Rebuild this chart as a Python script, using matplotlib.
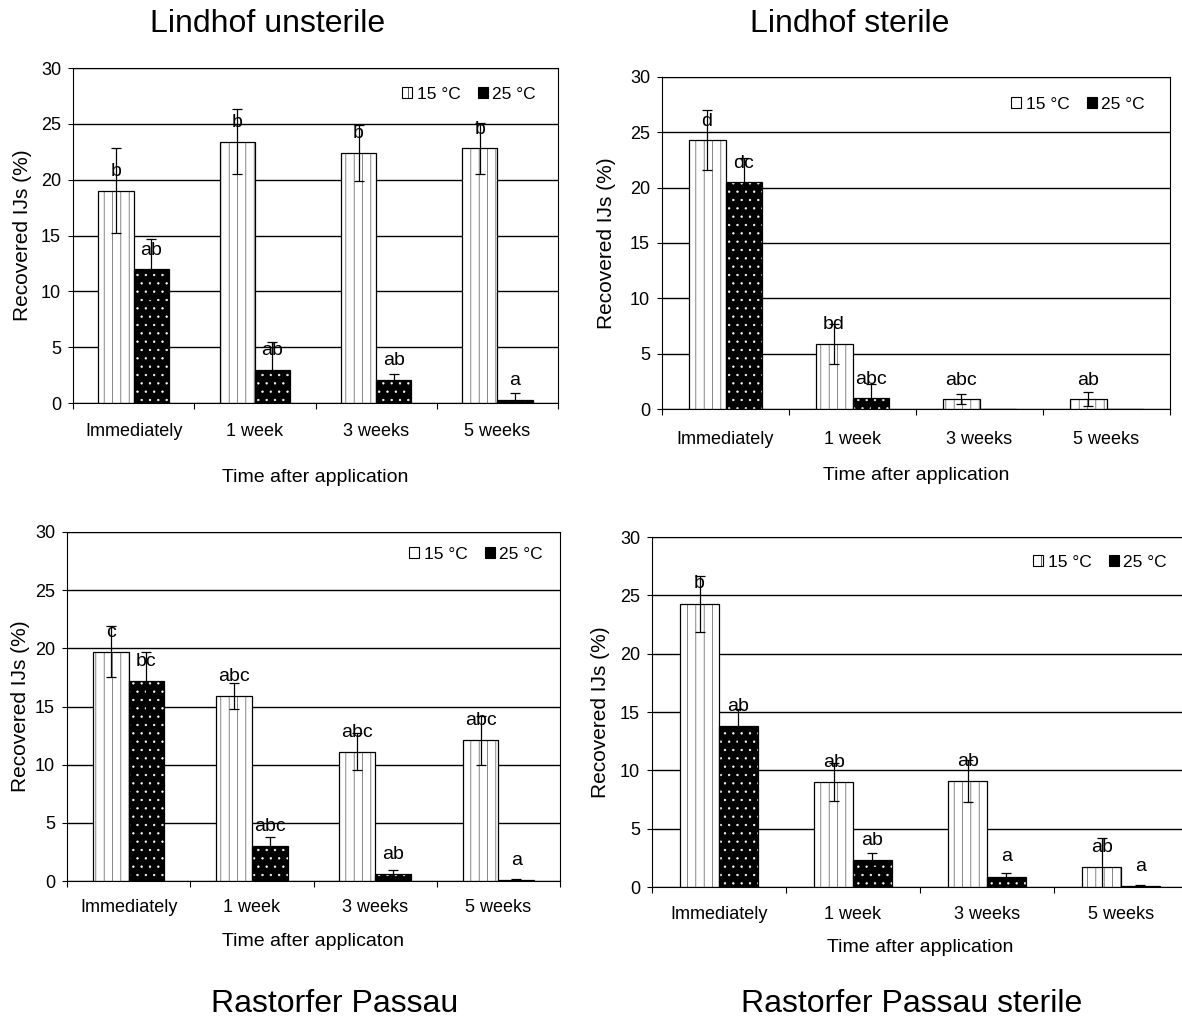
import numpy as np
import matplotlib.pyplot as plt
from matplotlib.patches import Patch

plt.rcParams['font.family'] = ['Liberation Sans', 'DejaVu Sans']
plt.rcParams['hatch.linewidth'] = 0.45

times = ['Immediately', '1 week', '3 weeks', '5 weeks']
temps = ['15 °C', '25 °C']

# Lindhof unsterile
lu_15 = [19.0, 23.4, 22.4, 22.8]
lu_15_err = [3.8, 2.9, 2.5, 2.3]
lu_25 = [12.0, 3.0, 2.1, 0.3]
lu_25_err = [2.7, 2.5, 0.5, 0.6]
lu_15_lab = ['b', 'b', 'b', 'b']
lu_25_lab = ['ab', 'ab', 'ab', 'a']

# Lindhof sterile
ls_15 = [24.3, 5.9, 0.9, 0.9]
ls_15_err = [2.7, 1.8, 0.45, 0.6]
ls_25 = [20.5, 1.0, 0.0, 0.0]
ls_25_err = [2.2, 1.3, np.nan, np.nan]
ls_15_lab = ['d', 'bd', 'abc', 'ab']
ls_25_lab = ['dc', 'abc', '', '']

# Rastorfer Passau
rp_15 = [19.7, 15.9, 11.1, 12.1]
rp_15_err = [2.2, 1.1, 1.6, 2.1]
rp_25 = [17.2, 3.0, 0.6, 0.1]
rp_25_err = [2.5, 0.8, 0.35, 0.1]
rp_15_lab = ['c', 'abc', 'abc', 'abc']
rp_25_lab = ['bc', 'abc', 'ab', 'a']

# Rastorfer Passau sterile
rps_15 = [24.3, 9.0, 9.1, 1.7]
rps_15_err = [2.4, 1.6, 1.8, 2.5]
rps_25 = [13.8, 2.3, 0.9, 0.1]
rps_25_err = [1.5, 0.6, 0.3, 0.1]
rps_15_lab = ['b', 'ab', 'ab', 'ab']
rps_25_lab = ['ab', 'ab', 'a', 'a']

W, H = 1182, 1021
fig = plt.figure(figsize=(W / 100, H / 100), dpi=100)


def draw_panel(box, v15, e15, v25, e25, lab15, lab25, xlab, tick_off, xlab_off, ylab_off, leg_dx, leg_dy):
    l, t, r, b = box
    wpx, hpx = r - l, b - t
    ax = fig.add_axes([l / W, 1 - b / H, wpx / W, hpx / H])
    x = np.arange(len(times))
    w = 0.29

    # 15 C: white with grey vertical lines
    ax.bar(x - w / 2, v15, w, color='white', edgecolor='#444444', hatch='||', linewidth=0, zorder=2)
    ax.bar(x - w / 2, v15, w, fill=False, edgecolor='black', linewidth=0.9, zorder=3)
    # 25 C: black with white dots
    ax.bar(x + w / 2, v25, w, color='black', edgecolor='white', hatch='..', linewidth=0, zorder=2)
    ax.bar(x + w / 2, v25, w, fill=False, edgecolor='black', linewidth=0.9, zorder=3)

    ax.errorbar(x - w / 2, v15, yerr=e15, fmt='none', ecolor='black', elinewidth=0.9,
                capsize=3.5, capthick=0.9, zorder=4)
    ax.errorbar(x + w / 2, v25, yerr=e25, fmt='none', ecolor='black', elinewidth=0.9,
                capsize=3.5, capthick=0.9, zorder=4)

    for i in range(len(times)):
        ax.text(x[i] - w / 2, v15[i] + 1.7, lab15[i], ha='center', va='center', fontsize=14, zorder=5)
        if lab25[i]:
            ax.text(x[i] + w / 2, v25[i] + 1.7, lab25[i], ha='center', va='center', fontsize=14, zorder=5)

    ax.set_xlim(-0.5, len(times) - 0.5)
    ax.set_ylim(0, 30)
    ax.set_yticks(np.arange(0, 31, 5))
    ax.yaxis.grid(True, color='black', linewidth=1)
    ax.set_axisbelow(True)

    ax.set_xticks(np.arange(-0.5, len(times), 1.0))
    ax.set_xticks(x, minor=True)
    ax.set_xticklabels([])
    ax.set_xticklabels(times, minor=True)
    ax.tick_params(axis='x', which='major', direction='out', length=4.3, width=0.8)
    ax.tick_params(axis='x', which='minor', length=0, labelsize=13, pad=(tick_off - 9) * 0.72)
    ax.tick_params(axis='y', direction='out', length=3.6, width=0.8, labelsize=13, pad=5)
    for s in ax.spines.values():
        s.set_linewidth(0.8)
        s.set_color('black')

    ax.text(0.5, -xlab_off / hpx, xlab, transform=ax.transAxes, ha='center', va='center', fontsize=14)
    ax.text(-ylab_off / wpx, 0.5, 'Recovered IJs (%)', transform=ax.transAxes, rotation=90,
            ha='center', va='center', fontsize=15)

    handles = [Patch(facecolor='white', edgecolor='black', hatch='|', linewidth=0.8),
               Patch(facecolor='black', edgecolor='black', linewidth=0.8)]
    ax.legend(handles, temps, loc='upper right', ncol=2, frameon=False, fontsize=12.5,
              bbox_to_anchor=(1 - leg_dx / wpx, 1 - leg_dy / hpx), borderpad=0, borderaxespad=0,
              handlelength=0.6, handleheight=0.6, handletextpad=0.25, columnspacing=1.0)
    return ax


draw_panel((73, 68, 558, 403), lu_15, lu_15_err, lu_25, lu_25_err, lu_15_lab, lu_25_lab,
           'Time after application', 29, 74, 50, 22, 19)
draw_panel((662, 77, 1170, 409), ls_15, ls_15_err, ls_25, ls_25_err, ls_15_lab, ls_25_lab,
           'Time after application', 31, 66, 55, 25, 20)
draw_panel((67, 532, 560, 881), rp_15, rp_15_err, rp_25, rp_25_err, rp_15_lab, rp_25_lab,
           'Time after applicaton', 27, 60, 46, 17, 15)
draw_panel((652, 537, 1188, 887), rps_15, rps_15_err, rps_25, rps_25_err, rps_15_lab, rps_25_lab,
           'Time after application', 28, 60, 52, 21, 18)

fig.text(268 / W, 1 - 32 / H, 'Lindhof unsterile', ha='center', va='baseline', fontsize=23)
fig.text(850 / W, 1 - 32 / H, 'Lindhof sterile', ha='center', va='baseline', fontsize=23)
fig.text(335 / W, 1 - 1012 / H, 'Rastorfer Passau', ha='center', va='baseline', fontsize=23)
fig.text(912 / W, 1 - 1012 / H, 'Rastorfer Passau sterile', ha='center', va='baseline', fontsize=23)

fig.savefig('out.png', dpi=100)
